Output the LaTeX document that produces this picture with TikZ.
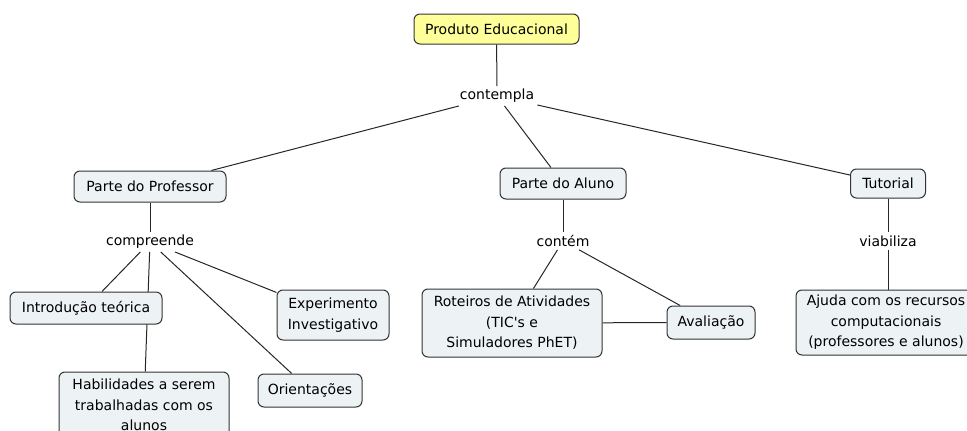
\documentclass[tikz,border=0pt]{standalone}
\usepackage{fontspec}
\setmainfont{DejaVu Sans}
\usetikzlibrary{backgrounds}
\definecolor{boxfill}{HTML}{EDF2F4}
\definecolor{yellowfill}{HTML}{FFFF99}
\definecolor{boxline}{HTML}{333333}
\begin{document}
\begin{tikzpicture}[x=1pt,y=-1pt,
  font=\fontsize{14}{20.5}\selectfont,
  concept/.style={draw=boxline, line width=1pt, rounded corners=6pt, fill=boxfill, align=center, inner sep=0pt},
  root/.style={concept, fill=yellowfill},
  phrase/.style={inner sep=3pt},
  link/.style={draw=black!85, line width=1pt}]
\useasboundingbox (0,0) rectangle (967,431);
\clip (0,0) rectangle (967,431);

\node[root, minimum width=165, minimum height=30] (root) at (496.5,29) {Produto Educacional};
\node[phrase] (contempla) at (497,96) {contempla};

\node[concept, minimum width=152, minimum height=31] (prof) at (150,186.5) {Parte do Professor};
\node[concept, minimum width=126, minimum height=31] (aluno) at (563,183.5) {Parte do Aluno};
\node[concept, minimum width=75, minimum height=29] (tut) at (888,183.5) {Tutorial};

\node[phrase] (compreende) at (150,242) {compreende};
\node[phrase] (contem) at (563,241) {contém};
\node[phrase] (viabiliza) at (888,241) {viabiliza};

\node[concept, minimum width=152, minimum height=32] (intro) at (86,308) {Introdução teórica};
\node[concept, minimum width=170, minimum height=66] (hab) at (144,405) {Habilidades a serem\\trabalhadas com os\\alunos};
\node[concept, minimum width=104, minimum height=33] (orient) at (310,390.5) {Orientações};
\node[concept, minimum width=112, minimum height=50] (exper) at (333,315) {Experimento\\Investigativo};

\node[concept, minimum width=180, minimum height=68] (rot) at (512,323) {Roteiros de Atividades\\(TIC\textquotesingle s e\\Simuladores PhET)};
\node[concept, minimum width=88, minimum height=33] (aval) at (711,322.5) {Avaliação};

\node[concept, minimum width=180, minimum height=65] (ajuda) at (886,322.5) {Ajuda com os recursos\\computacionais\\(professores e alunos)};

\begin{scope}[on background layer]
\draw[link] (root) -- (contempla);
\draw[link] (contempla) -- (prof);
\draw[link] (contempla) -- (aluno);
\draw[link] (contempla) -- (tut);
\draw[link] (prof) -- (compreende);
\draw[link] (compreende) -- (intro);
\draw[link] (compreende) -- (hab);
\draw[link] (compreende) -- (orient);
\draw[link] (compreende) -- (exper);
\draw[link] (aluno) -- (contem);
\draw[link] (contem) -- (rot);
\draw[link] (contem) -- (aval);
\draw[link] (rot) -- (aval);
\draw[link] (tut) -- (viabiliza);
\draw[link] (viabiliza) -- (viabiliza |- ajuda.north);
\end{scope}
\end{tikzpicture}
\end{document}
